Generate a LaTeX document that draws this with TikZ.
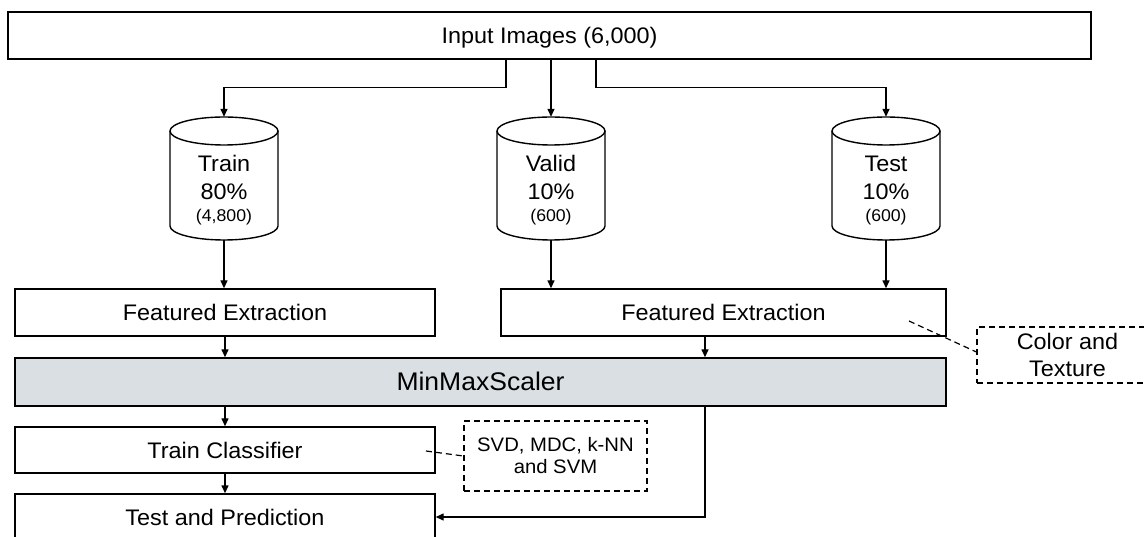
\documentclass[tikz,border=0pt]{standalone}
\usepackage{fontspec}
\setmainfont{Liberation Sans}[FakeStretch=1.04]
\usetikzlibrary{arrows.meta,calc}
\definecolor{mmfill}{RGB}{217,223,226}
\newcommand\mycyl[5]{%
  \node[minimum width=108pt,minimum height=123pt,inner sep=0pt] (#1) at (#2,178.5) {};
  \draw[lw,fill=white] ({#2-54},131) -- ({#2-54},226)
     arc[start angle=180,end angle=360,x radius=54pt,y radius=14pt] -- ({#2+54},131);
  \draw[lw,fill=white] (#2,131) ellipse [x radius=54pt,y radius=14pt];
  \node[anchor=base,font=\fontsize{22.5}{26}\selectfont,inner sep=0pt] (#1a) at (#2,172) {#3};
  \node[anchor=base,font=\fontsize{22.5}{26}\selectfont,inner sep=0pt] (#1b) at (#2,200) {#4};
  \node[anchor=base,font=\fontsize{17}{20}\selectfont,inner sep=0pt] (#1c) at (#2,221.5) {#5};
}
\begin{document}
\begin{tikzpicture}[x=1pt,y=-1pt,
  lw/.style={line width=1.4pt},
  box/.style={draw,line width=1.4pt,inner sep=0pt,text height=16pt,text depth=0pt,
    font=\fontsize{22.5}{26}\selectfont},
  note/.style={draw,dashed,dash pattern=on 6pt off 4pt,line width=1.2pt,inner sep=0pt,align=center},
  arr/.style={line width=1.4pt,-{Triangle[length=8pt,width=7pt]}},
  dsh/.style={line width=1.2pt,dash pattern=on 6pt off 4pt}]
\useasboundingbox (0,0) rectangle (1144,537);
\clip (0,0) rectangle (1144,537);
\fill[white] (0,0) rectangle (1144,537);

% top box
\node[box,minimum width=1083pt,minimum height=47pt] (top) at (549.5,35.5) {Input Images (6,000)};

% cylinders
\mycyl{train}{224}{Train}{80\%}{(4,800)}
\mycyl{valid}{551}{Valid}{10\%}{(600)}
\mycyl{test}{886}{Test}{10\%}{(600)}

% feature extraction
\node[box,minimum width=420pt,minimum height=47pt] (fe1) at (225,312.5) {Featured Extraction};
\node[box,minimum width=445pt,minimum height=47pt] (fe2) at (723.5,312.5) {Featured Extraction};

% minmax
\node[box,fill=mmfill,minimum width=931pt,minimum height=48pt,text height=18pt,
  font=\fontsize{25.5}{28}\selectfont] (mm) at (480.5,382) {MinMaxScaler};

% classifier and prediction
\node[box,minimum width=420pt,minimum height=46pt] (tc) at (225,450) {Train Classifier};
\node[box,minimum width=420pt,minimum height=46pt] (tp) at (225,517) {Test and Prediction};

% notes
\node[note,minimum width=183pt,minimum height=70pt,font=\fontsize{19.5}{22}\selectfont] (svd) at (555.5,456)
  {SVD, MDC, k-NN\\and SVM};
\node[note,minimum width=181pt,minimum height=56pt,font=\fontsize{22.5}{27}\selectfont] (ct) at (1067.5,355)
  {Color and\\Texture};

% connectors
\draw[arr] ([xshift=-43.5pt]top.south) -- ++(0,28) -| (train.north);
\draw[arr] ([xshift=1.5pt]top.south) -- (valid.north);
\draw[arr] ([xshift=46.5pt]top.south) -- ++(0,28) -| (test.north);

\draw[arr] (train.south) -- (train.south |- fe1.north);
\draw[arr] (valid.south) -- (valid.south |- fe2.north);
\draw[arr] (test.south) -- (test.south |- fe2.north);

\coordinate (xr) at (705,0);
\draw[arr] (fe1.south) -- (fe1.south |- mm.north);
\draw[arr] (fe2.south -| xr) -- (mm.north -| xr);
\draw[arr] (tc.north |- mm.south) -- (tc.north);
\draw[arr] (tc.south) -- (tp.north);
\draw[arr] (mm.south -| xr) |- (tp.east);

\coordinate (tcd) at (426,451);
\coordinate (fed) at (909,321);
\draw[dsh] (tcd) -- (svd.west);
\draw[dsh] (fed) -- ([yshift=3pt]ct.west);
\end{tikzpicture}
\end{document}
